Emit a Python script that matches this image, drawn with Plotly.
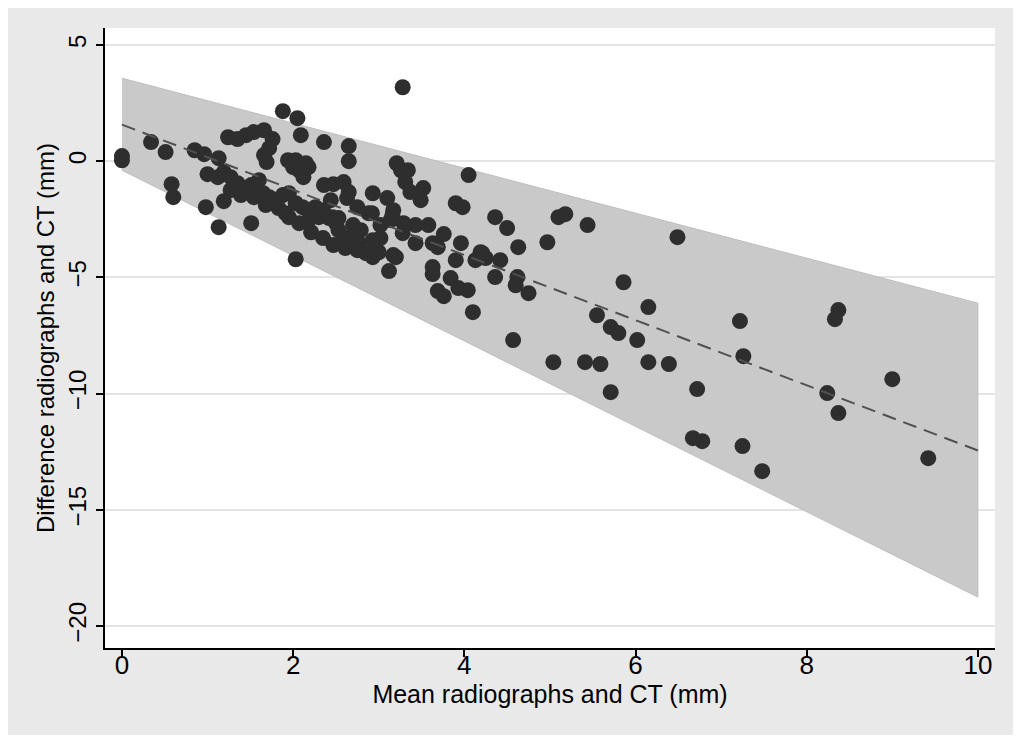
import plotly.graph_objects as go

# Bland-Altman style data: mean (x) and difference (y), in mm
mean_mm = [0.00, 0.00, 0.34, 0.51, 0.58, 0.60, 0.85, 0.96, 0.98, 1.13,
           1.13, 1.19, 1.51, 1.00, 1.12, 1.19, 1.27, 1.35, 1.41, 1.51,
           1.59, 1.54, 1.60, 1.24, 1.35, 1.45, 1.54, 1.66, 1.76, 1.72,
           1.66, 1.69, 1.88, 2.05, 2.09, 2.36, 2.65, 2.65, 3.28, 1.94,
           2.03, 2.15, 2.07, 2.12, 2.00, 2.18, 2.36, 2.47, 2.59, 2.65,
           2.63, 2.75, 2.93, 2.92, 3.10, 3.17, 3.14, 3.29, 3.28, 3.43,
           3.58, 3.21, 3.26, 3.34, 3.31, 3.37, 3.52, 3.63, 3.76, 3.63,
           3.63, 3.69, 3.76, 2.03, 3.12, 3.17, 1.65, 1.72, 1.80, 1.88,
           1.95, 2.03, 2.11, 2.18, 2.26, 2.35, 2.46, 2.53, 1.95, 2.07,
           2.18, 2.30, 2.42, 2.50, 2.53, 2.59, 2.70, 2.77, 2.75, 2.85,
           2.93, 2.96, 3.02, 3.00, 3.16, 3.20, 2.88, 4.05, 3.90, 3.98,
           4.36, 4.50, 4.63, 4.97, 5.10, 5.18, 5.44, 6.49, 3.69, 3.96,
           3.90, 4.19, 4.13, 4.25, 4.21, 4.42, 3.84, 3.93, 4.04, 4.10,
           4.36, 4.62, 4.60, 4.75, 4.57, 5.55, 5.71, 5.80, 5.86, 6.15,
           6.02, 5.04, 5.41, 5.59, 6.15, 6.39, 5.71, 6.72, 7.22, 7.26,
           8.37, 8.33, 6.67, 6.78, 7.25, 7.48, 8.24, 8.37, 9.00, 9.42,
           2.21, 2.35, 2.47, 2.61, 1.83, 1.91, 1.39, 1.27, 1.68, 2.70,
           2.79, 3.02, 3.43, 2.93, 3.49, 2.44]
diff_mm = [0.22, 0.04, 0.82, 0.39, -0.99, -1.55, 0.47, 0.30, -1.98, 0.13,
           -2.84, -1.72, -2.67, -0.56, -0.69, -0.47, -0.69, -0.95, -1.16, -1.03,
           -1.25, -1.55, -0.82, 1.03, 0.95, 1.12, 1.25, 1.33, 0.95, 0.56,
           0.26, -0.04, 2.15, 1.85, 1.12, 0.82, 0.65, 0.00, 3.18, 0.04,
           0.04, -0.09, -0.39, -0.69, -0.26, -0.26, -1.03, -0.99, -0.90, -1.33,
           -1.59, -1.98, -1.38, -2.24, -1.59, -2.11, -2.54, -2.67, -3.10, -2.75,
           -2.75, -0.09, -0.39, -0.39, -0.90, -1.33, -1.16, -3.53, -3.14, -4.56,
           -4.86, -5.59, -5.81, -4.22, -4.73, -4.04, -1.38, -1.55, -1.68, -1.46,
           -1.38, -1.81, -1.98, -2.11, -1.98, -2.11, -2.41, -2.45, -2.41, -2.67,
           -2.54, -2.41, -2.45, -2.67, -2.97, -3.27, -3.27, -3.53, -3.83, -3.96,
           -4.13, -3.53, -3.31, -3.92, -2.32, -4.13, -2.24, -0.60, -1.81, -1.98,
           -2.41, -2.88, -3.70, -3.49, -2.41, -2.28, -2.75, -3.27, -3.70, -3.53,
           -4.26, -3.92, -4.26, -4.17, -3.96, -4.26, -5.03, -5.46, -5.55, -6.50,
           -4.99, -4.99, -5.34, -5.68, -7.70, -6.63, -7.14, -7.40, -5.21, -6.28,
           -7.70, -8.65, -8.65, -8.73, -8.65, -8.73, -9.94, -9.81, -6.88, -8.39,
           -6.41, -6.80, -11.92, -12.05, -12.26, -13.34, -9.98, -10.84, -9.38, -12.78,
           -3.06, -3.31, -3.61, -3.74, -2.02, -2.24, -1.46, -1.25, -1.89, -2.75,
           -2.97, -2.75, -3.53, -3.40, -1.68, -1.68]

# Regression line and limits of agreement
band_x = [0, 10]
band_upper = [3.57, -6.11]
band_lower = [-0.39, -18.76]
fit_y = [1.57, -12.45]

x_ticks = [0, 2, 4, 6, 8, 10]
y_ticks = [-20, -15, -10, -5, 0, 5]
y_tick_text = ["\u221220", "\u221215", "\u221210", "\u22125", "0", "5"]

fig = go.Figure()

fig.add_trace(go.Scatter(
    x=band_x + band_x[::-1],
    y=band_upper + band_lower[::-1],
    fill="toself", mode="lines",
    fillcolor="#c9c9c9",
    line=dict(color="#bdbdbd", width=1),
    hoverinfo="skip", showlegend=False,
))

fig.add_trace(go.Scatter(
    x=mean_mm, y=diff_mm, mode="markers",
    marker=dict(size=16, color="#2e2e2e", line=dict(width=0)),
    showlegend=False,
))

fig.add_trace(go.Scatter(
    x=band_x, y=fit_y, mode="lines",
    line=dict(color="#505050", width=2, dash="14px,8px"),
    showlegend=False,
))

font_family = "Liberation Sans, Arial, sans-serif"

fig.update_layout(
    width=1005, height=727,
    margin=dict(l=97, r=18, t=20, b=87),
    paper_bgcolor="#e9e9e9",
    plot_bgcolor="white",
    font=dict(family=font_family, size=24, color="black"),
    xaxis=dict(
        range=[-0.198, 10.2],
        tickvals=x_ticks,
        ticks="outside", ticklen=7, tickwidth=1.5, tickcolor="black",
        ticklabelstandoff=-14,
        showline=True, linecolor="black", linewidth=2,
        showgrid=False, zeroline=False,
        title=dict(text="Mean radiographs and CT (mm)", standoff=0,
                   font=dict(size=25)),
        tickfont=dict(size=26),
    ),
    yaxis=dict(
        range=[-20.95, 5.73],
        tickvals=y_ticks, ticktext=y_tick_text,
        tickangle=-90,
        ticks="outside", ticklen=7, tickwidth=1.5, tickcolor="black",
        showline=True, linecolor="black", linewidth=2,
        showgrid=True, gridcolor="#e4e4e4", gridwidth=1.5,
        zeroline=False,
        title=dict(text="Difference radiographs and CT (mm)", standoff=3,
                   font=dict(size=24)),
        tickfont=dict(size=24),
    ),
)

fig.write_html("out.html")
